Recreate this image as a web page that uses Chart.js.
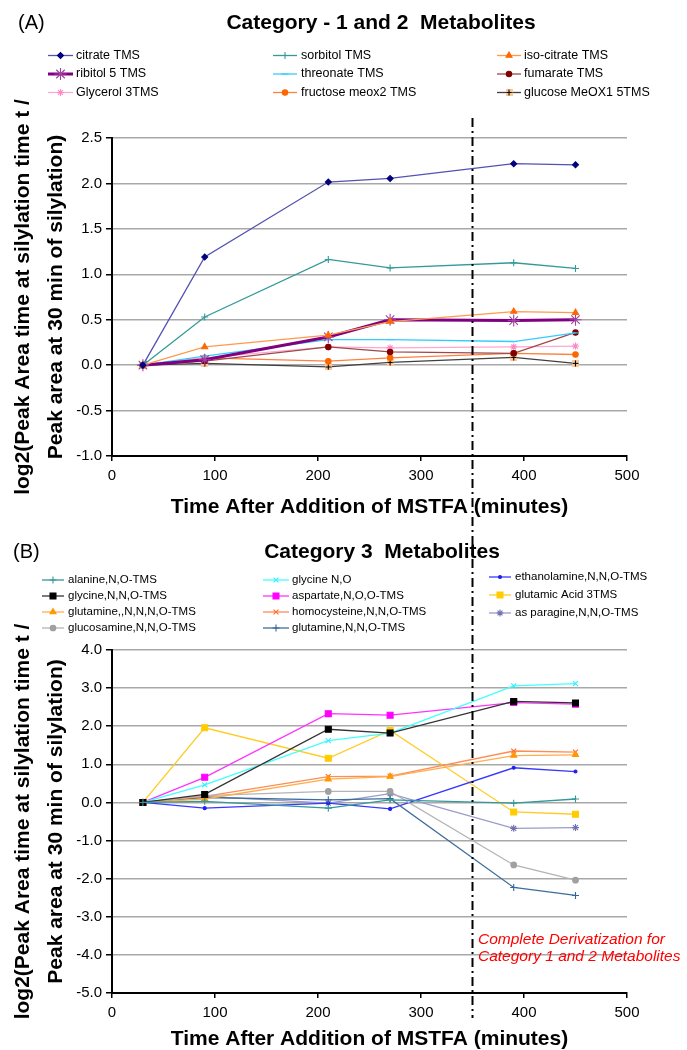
<!DOCTYPE html>
<html>
<head>
<meta charset="utf-8">
<script src="https://cdn.jsdelivr.net/npm/chart.js@4.4.0/dist/chart.umd.min.js"></script>
<style>
  html, body { margin: 0; padding: 0; background: #fff; }
  body { width: 687px; height: 1050px; position: relative; overflow: hidden; }
  canvas { position: absolute; left: 0; }
  #chartA { top: 0; }
  #chartB { top: 540px; }
</style>
</head>
<body>
<canvas id="chartA" width="687" height="540"></canvas>
<canvas id="chartB" width="687" height="510"></canvas>
<script>
// ── Data ─────────────────────────────────────────────────────────────────────
const times = [30, 90, 210, 270, 390, 450];   // minutes after MSTFA
const xTicks = [0, 100, 200, 300, 400, 500];
const yTicksA = [-1.0, -0.5, 0.0, 0.5, 1.0, 1.5, 2.0, 2.5];
const yTicksB = [-5, -4, -3, -2, -1, 0, 1, 2, 3, 4];
const derivTime = 350;

// Category 1 and 2
const citrate    = [0, 1.19, 2.015, 2.055, 2.217, 2.205];
const sorbitol   = [0, 0.53, 1.163, 1.07, 1.127, 1.064];
const isoCitrate = [0, 0.20, 0.33, 0.48, 0.59, 0.578];
const ribitol    = [0, 0.06, 0.31, 0.50, 0.49, 0.50];
const threonate  = [0, 0.10, 0.28, 0.28, 0.26, 0.355];
const fumarate   = [0, 0.045, 0.20, 0.146, 0.13, 0.36];
const glycerol   = [0, 0.08, 0.20, 0.19, 0.20, 0.21];
const fructose   = [0, 0.08, 0.044, 0.08, 0.13, 0.117];
const glucose    = [0, 0.02, -0.02, 0.03, 0.085, 0.02];

// Category 3
const alanine       = [0, 0.03, -0.15, 0.07, -0.02, 0.09];
const glycineNO     = [0, 0.46, 1.62, 1.82, 3.06, 3.12];
const ethanolamine  = [0, -0.15, -0.02, -0.17, 0.91, 0.81];
const glycineNNO    = [0, 0.21, 1.92, 1.82, 2.65, 2.61];
const aspartate     = [0, 0.66, 2.33, 2.29, 2.62, 2.58];
const glutamicAcid  = [0, 1.96, 1.16, 1.89, -0.25, -0.31];
const glutamineNNNO = [0, 0.09, 0.61, 0.68, 1.23, 1.25];
const homocysteine  = [0, 0.16, 0.68, 0.69, 1.35, 1.32];
const asparagine    = [0, 0.16, -0.02, 0.23, -0.68, -0.66];
const glucosamine   = [0, 0.18, 0.29, 0.29, -1.64, -2.04];
const glutamineNNO  = [0, 0.13, 0.07, 0.10, -2.23, -2.44];

// ── Helpers ──────────────────────────────────────────────────────────────────
const FONT = "'Liberation Sans', Arial, sans-serif";
Chart.defaults.font.family = FONT;
Chart.defaults.color = '#000';

// glucose marker: black plus on a light orange square
const plusSquare = (() => {
  const c = document.createElement('canvas');
  c.width = 7; c.height = 7;
  const g = c.getContext('2d');
  g.fillStyle = '#fbc898'; g.fillRect(0, 0, 7, 7);
  g.strokeStyle = '#000'; g.lineWidth = 1.1;
  g.beginPath(); g.moveTo(3.5, 0.5); g.lineTo(3.5, 6.5); g.moveTo(0.5, 3.5); g.lineTo(6.5, 3.5); g.stroke();
  return c;
})();

function series(label, values, line, point, style, radius, width = 1.3) {
  return {
    label,
    data: times.map((t, i) => ({ x: t, y: values[i] })),
    borderColor: line, backgroundColor: point,
    pointBackgroundColor: point, pointBorderColor: point,
    pointStyle: style, pointRadius: radius, pointBorderWidth: 1.1,
    borderWidth: width, tension: 0, fill: false,
  };
}

const decor = {
  id: 'decor',
  afterDraw(chart, args, o) {
    const ctx = chart.ctx;
    ctx.save();
    ctx.textBaseline = 'middle';
    ctx.fillStyle = '#000';
    ctx.textAlign = 'left';
    ctx.font = `20px ${FONT}`;
    ctx.fillText(o.panel, o.panelX, o.panelY);
    ctx.textAlign = 'center';
    ctx.font = `bold 21px ${FONT}`;
    ctx.fillText(o.title, o.titleX, o.titleY);

    // legend
    ctx.textAlign = 'left';
    ctx.font = `${o.legendSize}px ${FONT}`;
    o.legend.forEach(col => col.items.forEach((idx, r) => {
      const ds = chart.data.datasets[idx];
      const y = col.ys[r];
      ctx.strokeStyle = ds.borderColor; ctx.lineWidth = ds.borderWidth;
      ctx.beginPath(); ctx.moveTo(col.x0, y); ctx.lineTo(col.x1, y); ctx.stroke();
      ctx.fillStyle = ds.pointBackgroundColor; ctx.strokeStyle = ds.pointBorderColor;
      ctx.lineWidth = ds.pointBorderWidth;
      if (Chart.helpers && Chart.helpers.drawPoint) {
        Chart.helpers.drawPoint(ctx, { pointStyle: ds.pointStyle, radius: ds.pointRadius, borderWidth: ds.pointBorderWidth, rotation: 0 }, (col.x0 + col.x1) / 2, y);
      }
      ctx.fillStyle = '#000';
      ctx.fillText(ds.label, col.tx, y);
    }));

    if (o.note) {
      ctx.fillStyle = '#ff0000';
      ctx.font = `italic 15.5px ${FONT}`;
      o.note.lines.forEach((t, i) => ctx.fillText(t, o.note.x, o.note.y + i * o.note.dy));
    }

    // complete-derivatization marker
    const x = chart.scales.x.getPixelForValue(derivTime);
    ctx.strokeStyle = '#000'; ctx.lineWidth = 2;
    ctx.setLineDash([9, 4, 2, 4]);
    ctx.beginPath(); ctx.moveTo(x, o.dashTop); ctx.lineTo(x, o.dashBottom); ctx.stroke();
    ctx.restore();
  }
};

function scales(yMin, yMax, yTicks, xHeight, xTitlePad) {
  return {
    x: {
      type: 'linear', min: 0, max: 500,
      afterBuildTicks: s => { s.ticks = xTicks.map(v => ({ value: v })); },
      afterFit: s => { s.height = xHeight; },
      ticks: { font: { size: 15 }, color: '#000', padding: 6 },
      grid: { drawOnChartArea: false, drawTicks: true, tickLength: 5, color: '#000', lineWidth: 1.5 },
      border: { color: '#000', width: 2 },
      title: { display: true, text: 'Time After Addition of MSTFA (minutes)', color: '#000',
               font: { size: 21, weight: 'bold', lineHeight: 1 }, padding: { top: 0, bottom: xTitlePad } },
    },
    y: {
      min: yMin, max: yMax,
      afterBuildTicks: s => { s.ticks = yTicks.map(v => ({ value: v })); },
      afterFit: s => { s.width = 112; },
      ticks: { font: { size: 15 }, color: '#000', padding: 4, callback: v => v.toFixed(1) },
      grid: { color: '#a8a8a8', lineWidth: 1.5, drawTicks: true, tickLength: 6, tickColor: '#000' },
      border: { color: '#000', width: 2 },
      title: { display: true, color: '#000',
               text: ['log2(Peak Area time at silylation time t /', 'Peak area at 30 min of silylation)'],
               font: { size: 21, weight: 'bold', lineHeight: 1.55 }, padding: { top: 7, bottom: 0 } },
    },
  };
}

// ── Panel A ──────────────────────────────────────────────────────────────────
new Chart(document.getElementById('chartA'), {
  type: 'line',
  data: {
    datasets: [
      series('citrate TMS', citrate, '#5252b2', '#000080', 'rectRot', 3),
      series('sorbitol TMS', sorbitol, '#339999', '#339999', 'cross', 3.5),
      series('iso-citrate TMS', isoCitrate, '#ff9a4d', '#ff6600', 'triangle', 3.5),
      series('ribitol 5 TMS', ribitol, '#800080', '#a040a0', 'star', 6, 3),
      series('threonate TMS', threonate, '#33ccff', '#33ccff', 'line', 3.5),
      series('fumarate TMS', fumarate, '#a04848', '#800000', 'circle', 2.7),
      series('Glycerol 3TMS', glycerol, '#ffa6d2', '#ff88c4', 'star', 3.5),
      series('fructose meox2 TMS', fructose, '#ff8040', '#ff6600', 'circle', 2.7),
      series('glucose MeOX1 5TMS', glucose, '#404040', '#000', plusSquare, 3.5),
    ],
  },
  options: {
    responsive: false, animation: false, devicePixelRatio: 1,
    layout: { padding: { top: 138, right: 60, bottom: 0, left: 0 } },
    scales: scales(-1, 2.5, yTicksA, 84, 22.5),
    plugins: {
      legend: { display: false }, tooltip: { enabled: false },
      decor: {
        panel: '(A)', panelX: 18, panelY: 23,
        title: 'Category - 1 and 2  Metabolites', titleX: 381, titleY: 23,
        legendSize: 12.5,
        legend: [
          { x0: 48, x1: 73, tx: 76, ys: [55.5, 74, 92.5], items: [0, 3, 6] },
          { x0: 273, x1: 297, tx: 301, ys: [55.5, 74, 92.5], items: [1, 4, 7] },
          { x0: 497, x1: 521, tx: 524, ys: [55.5, 74, 92.5], items: [2, 5, 8] },
        ],
        dashTop: 118, dashBottom: 540,
      },
    },
  },
  plugins: [decor],
});

// ── Panel B ──────────────────────────────────────────────────────────────────
new Chart(document.getElementById('chartB'), {
  type: 'line',
  data: {
    datasets: [
      series('alanine,N,O-TMS', alanine, '#339999', '#339999', 'cross', 3.5),
      series('glycine,N,N,O-TMS', glycineNNO, '#333333', '#000', 'rect', 4.2),
      series('glutamine,,N,N,N,O-TMS', glutamineNNNO, '#ffad4d', '#ff9900', 'triangle', 3.5),
      series('glucosamine,N,N,O-TMS', glucosamine, '#b4b4b4', '#a0a0a0', 'circle', 2.8),
      series('glycine N,O', glycineNO, '#40ffff', '#33eeff', 'crossRot', 3.5),
      series('aspartate,N,O,O-TMS', aspartate, '#ff33ff', '#ff00ff', 'rect', 4.2),
      series('homocysteine,N,N,O-TMS', homocysteine, '#ff8c55', '#ff6a2a', 'crossRot', 3.5),
      series('glutamine,N,N,O-TMS', glutamineNNO, '#3d6e99', '#336699', 'cross', 3.5),
      series('ethanolamine,N,N,O-TMS', ethanolamine, '#3838ff', '#2020ee', 'circle', 1.5),
      series('glutamic Acid 3TMS', glutamicAcid, '#ffcc22', '#ffcc00', 'rect', 4.2),
      series('as paragine,N,N,O-TMS', asparagine, '#9a9acc', '#7070b0', 'star', 3.5),
    ],
  },
  options: {
    responsive: false, animation: false, devicePixelRatio: 1,
    layout: { padding: { top: 110, right: 60, bottom: 0, left: 0 } },
    scales: scales(-5, 4, yTicksB, 57, 0),
    plugins: {
      legend: { display: false }, tooltip: { enabled: false },
      decor: {
        panel: '(B)', panelX: 13, panelY: 12,
        title: 'Category 3  Metabolites', titleX: 382, titleY: 12,
        legendSize: 11.5,
        legend: [
          { x0: 42, x1: 64, tx: 68, ys: [40, 56, 72, 88], items: [0, 1, 2, 3] },
          { x0: 263, x1: 289, tx: 292, ys: [40, 56, 72, 88], items: [4, 5, 6, 7] },
          { x0: 489, x1: 511, tx: 515, ys: [37, 55, 73], items: [8, 9, 10] },
        ],
        note: { x: 478, y: 400, dy: 17, lines: ['Complete Derivatization for', 'Category 1 and 2 Metabolites'] },
        dashTop: 0, dashBottom: 478,
      },
    },
  },
  plugins: [decor],
});
</script>
</body>
</html>
